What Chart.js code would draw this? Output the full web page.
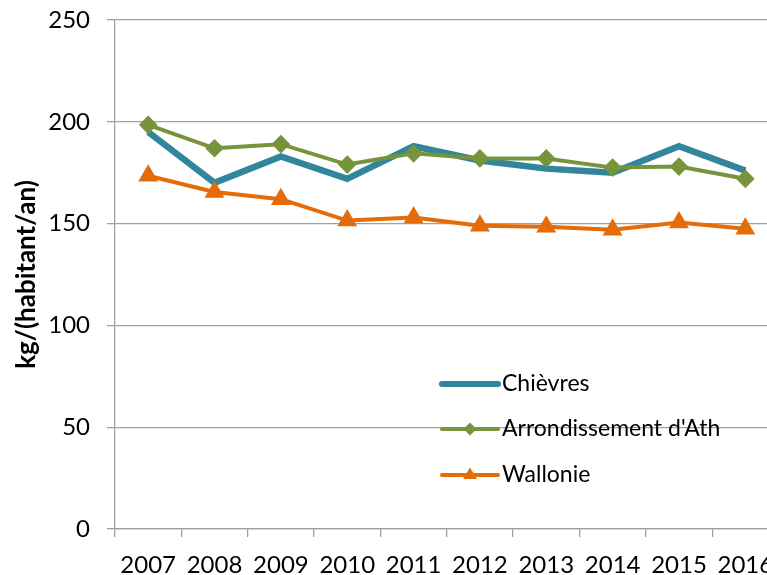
<!DOCTYPE html>
<html>
<head>
<meta charset="utf-8">
<script src="https://cdn.jsdelivr.net/npm/chart.js@4.4.1/dist/chart.umd.min.js"></script>
<style>
html, body { margin: 0; padding: 0; overflow: hidden; background: #fff; }
#wrap { width: 790px; height: 575px; }
</style>
</head>
<body>
<div id="wrap"><canvas id="chart"></canvas></div>
<script>
const years = ['2007', '2008', '2009', '2010', '2011', '2012', '2013', '2014', '2015', '2016']
const chievres = [195, 170, 183, 172, 188, 181, 177, 175, 188, 176]
const arrondAth = [198.5, 187, 189, 179, 184.5, 182, 182, 177.5, 178, 172]
const wallonie = [173.5, 165.5, 162, 151.5, 153, 149, 148.5, 147, 150.5, 147.5]
const yTicks = [0, 50, 100, 150, 200, 250]

const GRID = '#a0a0a0'
const BLUE = '#31859c'
const GREEN = '#77933c'
const ORANGE = '#e46c0a'

Chart.defaults.font.family = 'Lato'
Chart.defaults.color = '#000'

// legend drawn inside the plot area, bottom right
const legendInside = {
    id: 'legendInside',
    afterDraw(chart) {
        const ctx = chart.ctx
        const area = chart.chartArea
        const x0 = area.left + 327
        const x1 = area.left + 383
        const rows = [area.top + 364, area.top + 409, area.top + 455]
        ctx.save()
        chart.data.datasets.forEach((ds, i) => {
            const y = rows[i]
            ctx.strokeStyle = ds.borderColor
            ctx.lineWidth = i === 0 ? 6 : 4
            ctx.lineCap = 'round'
            ctx.beginPath()
            ctx.moveTo(x0, y)
            ctx.lineTo(x1, y)
            ctx.stroke()
            const cx = (x0 + x1) / 2
            ctx.fillStyle = ds.borderColor
            if (ds.pointStyle === 'rectRot') {
                ctx.beginPath()
                ctx.moveTo(cx, y - 6.5)
                ctx.lineTo(cx + 6.5, y)
                ctx.lineTo(cx, y + 6.5)
                ctx.lineTo(cx - 6.5, y)
                ctx.closePath()
                ctx.fill()
            } else if (ds.pointStyle === 'triangle') {
                ctx.beginPath()
                ctx.moveTo(cx, y - 7.5)
                ctx.lineTo(cx + 7, y + 4)
                ctx.lineTo(cx - 7, y + 4)
                ctx.closePath()
                ctx.fill()
            }
            ctx.fillStyle = '#000'
            ctx.font = '23px Lato'
            ctx.textBaseline = 'middle'
            ctx.textAlign = 'left'
            ctx.fillText(ds.label, x1 + 4, y)
        })
        ctx.restore()
    }
}

new Chart(document.getElementById('chart'), {
    type: 'line',
    data: {
        labels: years,
        datasets: [
            {
                label: 'Chièvres',
                data: chievres,
                borderColor: BLUE,
                backgroundColor: BLUE,
                borderWidth: 6.5,
                pointRadius: 0,
                tension: 0,
                order: 3
            },
            {
                label: "Arrondissement d'Ath",
                data: arrondAth,
                borderColor: GREEN,
                backgroundColor: GREEN,
                borderWidth: 4,
                pointStyle: 'rectRot',
                pointRadius: 6.5,
                tension: 0,
                order: 2
            },
            {
                label: 'Wallonie',
                data: wallonie,
                borderColor: ORANGE,
                backgroundColor: ORANGE,
                borderWidth: 4,
                pointStyle: 'triangle',
                pointRadius: 7.5,
                tension: 0,
                order: 1
            }
        ]
    },
    options: {
        responsive: true,
        maintainAspectRatio: false,
        animation: false,
        layout: { padding: { top: 20, right: 10, left: 0, bottom: 0 } },
        plugins: {
            legend: { display: false },
            tooltip: { enabled: false }
        },
        scales: {
            x: {
                type: 'category',
                offset: true,
                grid: { offset: true, drawOnChartArea: false, tickLength: 8, color: GRID, lineWidth: 1.3 },
                border: { color: GRID, width: 1.3 },
                ticks: { font: { size: 24 }, padding: 14, maxRotation: 0, autoSkip: false },
                afterFit(scale) {
                    scale.height = 46
                    scale.paddingLeft = 0
                    scale.paddingRight = 0
                }
            },
            y: {
                min: 0,
                max: 250,
                afterBuildTicks(scale) { scale.ticks = yTicks.map(v => ({ value: v })) },
                grid: { tickLength: 8, color: GRID, lineWidth: 1.3 },
                border: { color: GRID, width: 1.3 },
                ticks: { font: { size: 24 }, padding: 17 },
                title: {
                    display: true,
                    text: 'kg/(habitant/an)',
                    font: { size: 26, weight: 'bold' },
                    padding: { top: 11, bottom: 0 }
                },
                afterFit(scale) {
                    scale.width = 115
                    scale.paddingTop = 0
                    scale.paddingBottom = 0
                }
            }
        }
    },
    plugins: [legendInside]
})
</script>
</body>
</html>
